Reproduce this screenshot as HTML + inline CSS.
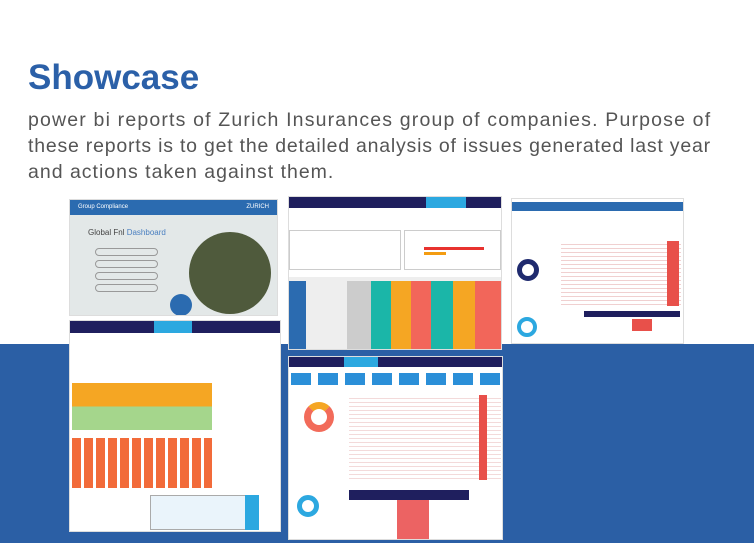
<!DOCTYPE html>
<html><head><meta charset="utf-8"><style>
*{box-sizing:border-box;margin:0;padding:0}
body{width:754px;height:543px;overflow:hidden;background:#fff;font-family:"Liberation Sans",sans-serif;position:relative}
.band{position:absolute;left:0;top:344px;width:754px;height:199px;background:#2b5fa5}
h1{position:absolute;left:28px;top:58px;font-size:35px;color:#2b60a8;font-weight:bold}
p.desc{position:absolute;left:28px;top:107px;width:726px;font-size:19.5px;line-height:26px;color:#555;white-space:nowrap}
p.desc span{display:block}
.th{position:absolute;background:#fff;border:1px solid #ddd;overflow:hidden}
.nav{position:absolute;left:0;top:0;width:100%;height:14px;background:#1f1f5e}
.r{position:absolute}
</style></head><body>
<div class="band"></div>
<h1>Showcase</h1>
<p class="desc"><span style="letter-spacing:1.17px">power bi reports of Zurich Insurances group of companies. Purpose of</span><span style="letter-spacing:0.78px">these reports is to get the detailed analysis of issues generated last year</span><span style="letter-spacing:1px">and actions taken against them.</span></p>

<div class="th" style="left:69px;top:199px;width:209px;height:117px;background:#e3e8e8">
 <div class="r" style="left:0;top:0;width:100%;height:15px;background:#2b6bb0;color:#fff;font-size:6px;padding:4px 8px">Group Compliance<span style="float:right">ZURICH</span></div>
 <div class="r" style="left:18px;top:28px;font-size:8px;color:#444">Global Fnl <span style="color:#4a7fc0">Dashboard</span></div>
 <div class="r" style="left:25px;top:48px;width:63px;height:8px;border:1px solid #999;border-radius:4px"></div>
 <div class="r" style="left:25px;top:60px;width:63px;height:8px;border:1px solid #999;border-radius:4px"></div>
 <div class="r" style="left:25px;top:72px;width:63px;height:8px;border:1px solid #999;border-radius:4px"></div>
 <div class="r" style="left:25px;top:84px;width:63px;height:8px;border:1px solid #999;border-radius:4px"></div>
 <div class="r" style="left:119px;top:32px;width:82px;height:82px;border-radius:50%;background:#4f5a3c"></div>
 <div class="r" style="left:100px;top:94px;width:22px;height:22px;border-radius:50%;background:#2b6bb0"></div>
</div>

<div class="th" style="left:288px;top:196px;width:214px;height:154px">
 <div class="nav" style="height:11px"></div>
 <div class="r" style="left:137px;top:0;width:40px;height:11px;background:#2ca8e0"></div>
 <div class="r" style="left:0;top:33px;width:112px;height:40px;border:1px solid #ccc"></div>
 <div class="r" style="left:115px;top:33px;width:97px;height:40px;border:1px solid #ccc"></div>
 <div class="r" style="left:135px;top:50px;width:60px;height:3px;background:#e8322f"></div>
 <div class="r" style="left:135px;top:55px;width:22px;height:3px;background:#f39c12"></div>
 <div class="r" style="left:0;top:80px;width:214px;height:74px;background:#eee"></div>
 <div class="r" style="left:0;top:84px;width:17px;height:70px;background:#2b6bb0"></div>
 <div class="r" style="left:58px;top:84px;width:24px;height:70px;background:#ccc"></div>
 <div class="r" style="left:82px;top:84px;width:20px;height:70px;background:#1bb6a8"></div>
 <div class="r" style="left:102px;top:84px;width:20px;height:70px;background:#f5a623"></div>
 <div class="r" style="left:122px;top:84px;width:20px;height:70px;background:#f2665a"></div>
 <div class="r" style="left:142px;top:84px;width:22px;height:70px;background:#1bb6a8"></div>
 <div class="r" style="left:164px;top:84px;width:22px;height:70px;background:#f5a623"></div>
 <div class="r" style="left:186px;top:84px;width:28px;height:70px;background:#f2665a"></div>
</div>

<div class="th" style="left:511px;top:198px;width:173px;height:146px">
 <div class="r" style="left:0;top:3px;width:100%;height:9px;background:#2b6bb0"></div>
 <div class="r" style="left:49px;top:42px;width:120px;height:65px;background:repeating-linear-gradient(#fff 0 3px,#f0d0d0 3px 4px)"></div>
 <div class="r" style="left:155px;top:42px;width:12px;height:65px;background:#e8504a"></div>
 <div class="r" style="left:5px;top:60px;width:22px;height:22px;border-radius:50%;border:5px solid #1f2a6e"></div>
 <div class="r" style="left:5px;top:118px;width:20px;height:20px;border-radius:50%;border:4px solid #2ca8e0"></div>
 <div class="r" style="left:72px;top:112px;width:96px;height:6px;background:#1f1f5e"></div>
 <div class="r" style="left:120px;top:120px;width:20px;height:12px;background:#e8504a"></div>
</div>

<div class="th" style="left:69px;top:320px;width:212px;height:212px">
 <div class="nav" style="height:12px"></div>
 <div class="r" style="left:84px;top:0;width:38px;height:12px;background:#2ca8e0"></div>
 <div class="r" style="left:2px;top:62px;width:140px;height:47px;background:linear-gradient(#f5a623 0 50%,#a5d68c 50%)"></div>
 <div class="r" style="left:2px;top:117px;width:140px;height:50px;background:repeating-linear-gradient(90deg,#f26b3a 0 9px,#fff 9px 12px)"></div>
 <div class="r" style="left:80px;top:174px;width:109px;height:35px;border:1px solid #aaa;background:#eaf4fb"></div>
 <div class="r" style="left:175px;top:174px;width:14px;height:35px;background:#2ca8e0"></div>
</div>

<div class="th" style="left:288px;top:356px;width:215px;height:184px">
 <div class="nav" style="height:10px"></div>
 <div class="r" style="left:55px;top:0;width:34px;height:10px;background:#2ca8e0"></div>
 <div class="r" style="left:2px;top:16px;width:212px;height:12px;background:repeating-linear-gradient(90deg,#2b8fd8 0 20px,#fff 20px 27px)"></div>
 <div class="r" style="left:15px;top:45px;width:30px;height:30px;border-radius:50%;border:7px solid #f26b5a;border-top-color:#f5a623"></div>
 <div class="r" style="left:60px;top:38px;width:152px;height:85px;background:repeating-linear-gradient(#fff 0 3px,#f3dada 3px 4px)"></div>
 <div class="r" style="left:190px;top:38px;width:8px;height:85px;background:#e8504a"></div>
 <div class="r" style="left:8px;top:138px;width:22px;height:22px;border-radius:50%;border:5px solid #2ca8e0"></div>
 <div class="r" style="left:60px;top:133px;width:120px;height:10px;background:#1f1f5e"></div>
 <div class="r" style="left:108px;top:143px;width:32px;height:40px;background:#ec6363"></div>
</div>
</body></html>
